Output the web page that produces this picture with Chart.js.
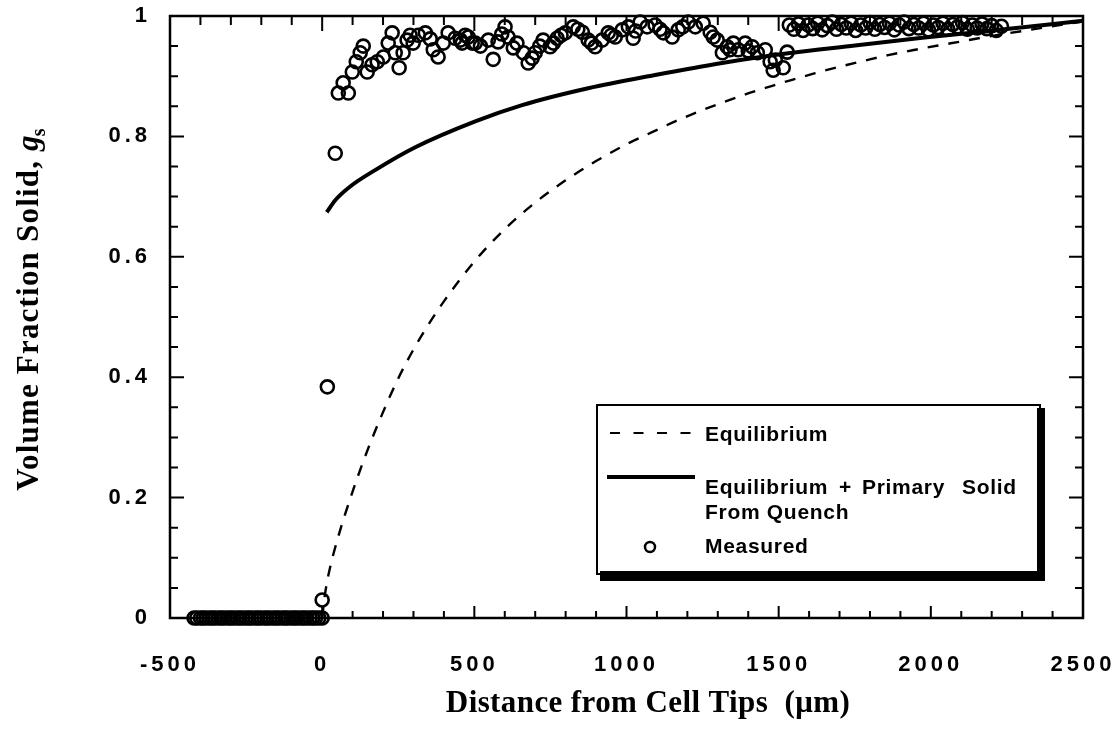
<!DOCTYPE html>
<html>
<head>
<meta charset="utf-8">
<script src="https://cdn.jsdelivr.net/npm/chart.js@4.4.1/dist/chart.umd.min.js"></script>
<style>
  html, body { margin: 0; padding: 0; background: #fff; }
  #wrap { width: 1114px; height: 729px; }
</style>
</head>
<body>
<div id="wrap"><canvas id="c" width="1114" height="729"></canvas></div>
<script>
// Axis tick labels
const xTicks = [-500, 0, 500, 1000, 1500, 2000, 2500];
const yTicks = [0, 0.2, 0.4, 0.6, 0.8, 1];

// Equilibrium solidification model
const equilibriumX = [0, 8, 20, 50, 100, 150, 200, 250, 300, 350, 400, 500, 600, 700, 800, 900, 1000, 1084, 1160, 1236, 1314, 1397, 1479, 1544, 1620, 1702, 1784, 1860, 1949, 2024, 2103, 2179, 2350, 2500];
const equilibriumY = [0, 0.035, 0.070, 0.130, 0.210, 0.280, 0.342, 0.398, 0.446, 0.488, 0.526, 0.592, 0.646, 0.690, 0.727, 0.759, 0.787, 0.807, 0.825, 0.841, 0.856, 0.871, 0.884, 0.894, 0.905, 0.916, 0.926, 0.935, 0.944, 0.951, 0.958, 0.965, 0.979, 0.991];

// Equilibrium + primary solid formed during the quench
const quenchX = [15, 43, 90, 174, 306, 503, 657, 874, 1094, 1314, 1531, 1751, 1972, 2188, 2500];
const quenchY = [0.674, 0.694, 0.716, 0.744, 0.782, 0.825, 0.852, 0.880, 0.902, 0.922, 0.938, 0.951, 0.964, 0.975, 0.992];

// Measured volume fraction solid
const measuredX = [
  -421, -412, -400, -391, -382, -370, -361, -352, -340, -331, -322, -310, -301, -292, -280, -271,
  -262, -250, -241, -232, -220, -211, -202, -190, -181, -172, -160, -151, -142, -130, -121, -112,
  -100, -91, -82, -70, -61, -52, -40, -31, -22, -11, 0, 0,
  17, 43, 53, 86, 69, 99, 112, 125, 135, 148, 164, 181, 201, 217, 230, 240, 253, 266, 279, 289,
  299, 316, 339, 355, 365, 381, 398, 414, 437, 454, 460, 470, 480, 493, 503, 520, 546, 562, 578,
  590, 601, 611, 628, 640, 661, 677, 690, 700, 715, 726, 749, 760, 772, 785, 799, 825, 840, 855,
  874, 885, 897, 920, 940, 950, 963, 986, 1006, 1022, 1030, 1045, 1068, 1094, 1110, 1121, 1150,
  1170, 1185, 1203, 1226, 1252, 1275, 1285, 1298, 1315, 1331, 1340, 1351, 1367, 1390, 1400, 1413,
  1430, 1456, 1472, 1482, 1489, 1515, 1528,
  1535, 1550, 1565, 1580, 1597, 1612, 1628, 1643, 1660, 1676, 1690, 1706, 1722, 1738, 1753, 1770,
  1786, 1800, 1816, 1832, 1848, 1864, 1880, 1896, 1912, 1928, 1944, 1960, 1976, 1992, 2008, 2024,
  2040, 2056, 2072, 2088, 2104, 2120, 2136, 2152, 2168, 2184, 2200, 2215, 2232
];
const measuredY = [
  0, 0, 0, 0, 0, 0, 0, 0, 0, 0, 0, 0, 0, 0, 0, 0,
  0, 0, 0, 0, 0, 0, 0, 0, 0, 0, 0, 0, 0, 0, 0, 0,
  0, 0, 0, 0, 0, 0, 0, 0, 0, 0, 0, 0.030,
  0.384, 0.772, 0.872, 0.872, 0.889, 0.907, 0.924, 0.939, 0.950, 0.907, 0.919, 0.924, 0.932, 0.955, 0.972, 0.939, 0.914, 0.939, 0.960, 0.968,
  0.955, 0.968, 0.972, 0.962, 0.944, 0.932, 0.955, 0.972, 0.963, 0.960, 0.955, 0.968, 0.965, 0.955, 0.955, 0.950, 0.960, 0.928, 0.957,
  0.970, 0.982, 0.965, 0.947, 0.955, 0.939, 0.922, 0.930, 0.939, 0.950, 0.960, 0.949, 0.955, 0.963, 0.968, 0.972, 0.982, 0.978, 0.973,
  0.960, 0.955, 0.949, 0.960, 0.972, 0.968, 0.965, 0.977, 0.982, 0.963, 0.975, 0.990, 0.982, 0.985, 0.978, 0.972, 0.965,
  0.977, 0.982, 0.990, 0.982, 0.988, 0.973, 0.965, 0.960, 0.939, 0.949, 0.944, 0.955, 0.944, 0.955, 0.942, 0.949,
  0.939, 0.944, 0.924, 0.910, 0.927, 0.914, 0.940,
  0.985, 0.978, 0.987, 0.976, 0.985, 0.979, 0.988, 0.977, 0.984, 0.990, 0.978, 0.986, 0.980, 0.988, 0.976, 0.985,
  0.980, 0.989, 0.978, 0.986, 0.981, 0.988, 0.977, 0.985, 0.990, 0.979, 0.986, 0.980, 0.988, 0.977, 0.985, 0.981,
  0.988, 0.978, 0.986, 0.982, 0.989, 0.978, 0.985, 0.980, 0.987, 0.979, 0.984, 0.976, 0.983
];

const toPoints = (xs, ys) => xs.map((x, i) => ({ x: x, y: ys[i] }));

const SANS = '"Liberation Sans", Arial, Helvetica, sans-serif';
const SERIF = '"Liberation Serif", "Times New Roman", serif';

// Boxed frame with inward ticks, axis titles and the boxed legend
const framePlugin = {
  id: 'frameAndLegend',
  beforeDraw(chart) {
    chart.ctx.letterSpacing = '4px';
  },
  beforeDatasetsDraw(chart) {
    chart.ctx.letterSpacing = '0px';
  },
  afterDraw(chart) {
    const ctx = chart.ctx;
    const a = chart.chartArea;
    const xs = chart.scales.x;
    const ys = chart.scales.y;
    ctx.save();
    ctx.letterSpacing = '0px';
    ctx.strokeStyle = '#000';
    ctx.fillStyle = '#000';
    ctx.setLineDash([]);

    // frame
    ctx.lineWidth = 2.5;
    ctx.strokeRect(a.left, a.top, a.right - a.left, a.bottom - a.top);

    // inward ticks on all four sides
    ctx.lineWidth = 2;
    ctx.beginPath();
    for (let v = -500; v <= 2500; v += 100) {
      const px = xs.getPixelForValue(v);
      const major = xTicks.includes(v);
      const lb = major ? 12 : 7;
      const lt = major ? 15 : 9;
      ctx.moveTo(px, a.bottom); ctx.lineTo(px, a.bottom - lb);
      ctx.moveTo(px, a.top); ctx.lineTo(px, a.top + lt);
    }
    for (let k = 0; k <= 20; k++) {
      const v = k * 0.05;
      const py = ys.getPixelForValue(v);
      const major = k % 4 === 0;
      const l = major ? 14 : 8;
      ctx.moveTo(a.left, py); ctx.lineTo(a.left + l, py);
      ctx.moveTo(a.right, py); ctx.lineTo(a.right - l, py);
    }
    ctx.stroke();

    // x axis title
    ctx.font = 'bold 31px ' + SERIF;
    ctx.letterSpacing = '0.4px';
    ctx.textAlign = 'center';
    ctx.textBaseline = 'alphabetic';
    ctx.fillText('Distance from Cell Tips  (\u03bcm)', 648, 712);

    // y axis title, rotated, with g subscript s
    ctx.save();
    ctx.translate(38, 308);
    ctx.rotate(-Math.PI / 2);
    ctx.letterSpacing = '1.2px';
    const main = 'Volume Fraction Solid, ';
    ctx.font = 'bold 31px ' + SERIF;
    const w1 = ctx.measureText(main).width;
    ctx.font = 'italic bold 31px ' + SERIF;
    const w2 = ctx.measureText('g').width;
    ctx.font = 'bold 20px ' + SERIF;
    const w3 = ctx.measureText('s').width;
    let sx = -(w1 + w2 + w3) / 2;
    ctx.textAlign = 'left';
    ctx.font = 'bold 31px ' + SERIF;
    ctx.fillText(main, sx, 0);
    sx += w1;
    ctx.font = 'italic bold 31px ' + SERIF;
    ctx.fillText('g', sx, 0);
    sx += w2 - 2;
    ctx.font = 'bold 20px ' + SERIF;
    ctx.fillText('s', sx, 7);
    ctx.restore();

    // legend box with heavy right and bottom edges
    ctx.letterSpacing = '0px';
    ctx.lineWidth = 2;
    ctx.strokeRect(597, 405, 443, 169);
    ctx.fillRect(1037, 408, 8, 173);
    ctx.fillRect(600, 571, 445, 10);

    // legend samples
    ctx.lineWidth = 2.2;
    ctx.setLineDash([10, 13.5]);
    ctx.beginPath(); ctx.moveTo(610, 433); ctx.lineTo(692, 433); ctx.stroke();
    ctx.setLineDash([]);
    ctx.lineWidth = 4;
    ctx.beginPath(); ctx.moveTo(607, 477); ctx.lineTo(695, 477); ctx.stroke();
    ctx.lineWidth = 2.5;
    ctx.beginPath(); ctx.arc(650, 547, 5, 0, Math.PI * 2); ctx.stroke();

    // legend texts
    ctx.font = 'bold 21px ' + SANS;
    ctx.letterSpacing = '0.7px';
    ctx.textAlign = 'left';
    ctx.fillText('Equilibrium', 705, 441);
    ctx.fillText('Equilibrium', 705, 494);
    ctx.fillText('+', 839, 494);
    ctx.fillText('Primary', 862, 494);
    ctx.fillText('Solid', 962, 494);
    ctx.fillText('From Quench', 705, 519);
    ctx.fillText('Measured', 705, 553);
    ctx.restore();
  }
};

// keep the plot area fixed: no extra room for overhanging tick labels
const noOverhang = s => {
  s.paddingLeft = 0; s.paddingRight = 0; s.paddingTop = 0; s.paddingBottom = 0;
};

new Chart(document.getElementById('c'), {
  type: 'scatter',
  data: {
    datasets: [
      {
        label: 'Measured',
        data: toPoints(measuredX, measuredY),
        showLine: false,
        pointStyle: 'circle',
        pointRadius: 6.5,
        pointBorderWidth: 2.6,
        pointBorderColor: '#000',
        pointBackgroundColor: 'rgba(255,255,255,0)',
        clip: false
      },
      {
        label: 'Equilibrium + Primary Solid From Quench',
        data: toPoints(quenchX, quenchY),
        showLine: true,
        borderColor: '#000',
        borderWidth: 4,
        pointRadius: 0,
        cubicInterpolationMode: 'monotone'
      },
      {
        label: 'Equilibrium',
        data: toPoints(equilibriumX, equilibriumY),
        showLine: true,
        borderColor: '#000',
        borderWidth: 2.4,
        borderDash: [11, 10],
        pointRadius: 0,
        cubicInterpolationMode: 'monotone'
      }
    ]
  },
  options: {
    responsive: false,
    animation: false,
    devicePixelRatio: 1,
    layout: { padding: { left: 0, top: 16, right: 31, bottom: 0 } },
    plugins: { legend: { display: false }, tooltip: { enabled: false } },
    scales: {
      x: {
        type: 'linear',
        min: -500,
        max: 2500,
        afterBuildTicks: s => { s.ticks = xTicks.map(v => ({ value: v })); },
        afterFit: s => { s.height = 111; noOverhang(s); },
        grid: { display: false, drawTicks: false },
        border: { display: false },
        ticks: {
          color: '#000',
          padding: 34,
          maxRotation: 0,
          font: { family: SANS, size: 22, weight: 'bold' },
          callback: v => String(v)
        }
      },
      y: {
        type: 'linear',
        min: 0,
        max: 1,
        afterBuildTicks: s => { s.ticks = yTicks.map(v => ({ value: v })); },
        afterFit: s => { s.width = 170; noOverhang(s); },
        grid: { display: false, drawTicks: false },
        border: { display: false },
        ticks: {
          color: '#000',
          padding: 19,
          font: { family: SANS, size: 22, weight: 'bold' },
          callback: v => String(v)
        }
      }
    }
  },
  plugins: [framePlugin]
});
</script>
</body>
</html>
